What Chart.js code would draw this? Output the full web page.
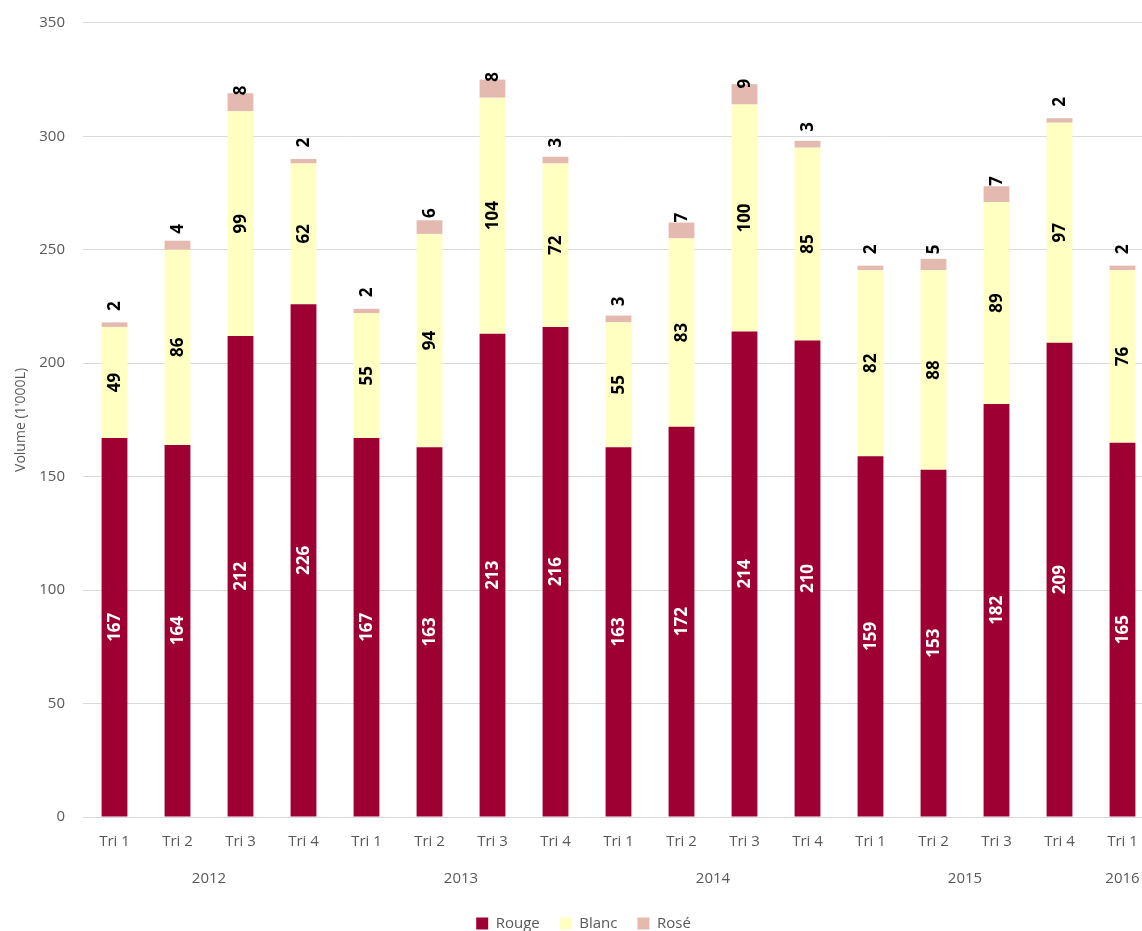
<!DOCTYPE html>
<html lang="fr">

<head>
    <meta charset="UTF-8">
    <title>Volume par trimestre</title>
    <style>
        html, body {
            margin: 0;
            padding: 0;
            background: #fff;
            overflow: hidden;
        }

        .wrap {
            width: 1154px;
            height: 931px;
        }
    </style>
</head>

<body>

    <div class="wrap">
        <canvas id="chart"></canvas>
    </div>

    <script src="https://cdn.jsdelivr.net/npm/chart.js@4.4.3/dist/chart.umd.min.js"></script>

    <script>
        const quarters = ['Tri 1', 'Tri 2', 'Tri 3', 'Tri 4', 'Tri 1', 'Tri 2', 'Tri 3', 'Tri 4', 'Tri 1', 'Tri 2', 'Tri 3', 'Tri 4', 'Tri 1', 'Tri 2', 'Tri 3', 'Tri 4', 'Tri 1']
        const years = ['2012', '2013', '2014', '2015', '2016']
        const quartersPerYear = [4, 4, 4, 4, 1]

        const rouge = [167, 164, 212, 226, 167, 163, 213, 216, 163, 172, 214, 210, 159, 153, 182, 209, 165]
        const blanc = [49, 86, 99, 62, 55, 94, 104, 72, 55, 83, 100, 85, 82, 88, 89, 97, 76]
        const rose = [2, 4, 8, 2, 2, 6, 8, 3, 3, 7, 9, 3, 2, 5, 7, 2, 2]

        const yTicks = [0, 50, 100, 150, 200, 250, 300, 350]

        const gray = '#595959'
        const font = '"Open Sans", sans-serif'

        // value labels written vertically on the bars
        const barLabels = {
            id: 'barLabels',
            afterDatasetsDraw(chart) {
                const ctx = chart.ctx
                chart.data.datasets.forEach((ds, i) => {
                    const meta = chart.getDatasetMeta(i)
                    meta.data.forEach((bar, j) => {
                        let y, align
                        if (i === 2) {
                            y = bar.base - 16
                            align = 'left'
                        } else {
                            y = (bar.y + bar.base) / 2
                            align = 'center'
                        }
                        ctx.save()
                        ctx.translate(bar.x, y)
                        ctx.rotate(-Math.PI / 2)
                        ctx.font = 'bold 17px ' + font
                        ctx.fillStyle = i === 0 ? '#ffffff' : '#000000'
                        ctx.textAlign = align
                        ctx.textBaseline = 'middle'
                        ctx.fillText(String(ds.data[j]), 0, 1)
                        ctx.restore()
                    })
                })
            }
        }

        // second row of the x axis: years centred under their quarters
        const yearRow = {
            id: 'yearRow',
            afterDraw(chart) {
                const ctx = chart.ctx
                const x = chart.scales.x
                let start = 0
                ctx.save()
                ctx.font = '15px ' + font
                ctx.fillStyle = gray
                ctx.textAlign = 'center'
                ctx.textBaseline = 'middle'
                years.forEach((yr, k) => {
                    const end = start + quartersPerYear[k] - 1
                    const cx = (x.getPixelForValue(start) + x.getPixelForValue(end)) / 2
                    ctx.fillText(yr, cx, chart.chartArea.bottom + 62)
                    start = end + 1
                })
                ctx.restore()
            }
        }

        const ctx = document.getElementById('chart').getContext('2d')

        new Chart(ctx, {
            type: 'bar',
            data: {
                labels: quarters,
                datasets: [{
                    label: 'Rouge',
                    data: rouge,
                    backgroundColor: '#9E0034',
                }, {
                    label: 'Blanc',
                    data: blanc,
                    backgroundColor: '#FFFFC2',
                }, {
                    label: 'Rosé',
                    data: rose,
                    backgroundColor: '#E4BAB0',
                }],
            },
            options: {
                responsive: true,
                maintainAspectRatio: false,
                animation: false,
                datasets: {
                    bar: {
                        barPercentage: 0.41,
                        categoryPercentage: 1,
                    }
                },
                layout: {
                    padding: { top: 0, left: 13, right: 0, bottom: -10 }
                },
                plugins: {
                    legend: {
                        position: 'bottom',
                        labels: {
                            boxWidth: 12,
                            boxHeight: 12,
                            padding: 20,
                            color: gray,
                            font: { family: font, size: 15 },
                        },
                    },
                    tooltip: { enabled: false },
                },
                scales: {
                    x: {
                        stacked: true,
                        grid: { display: false },
                        border: { display: false },
                        afterFit: scale => {
                            scale.height = 79
                        },
                        ticks: {
                            color: gray,
                            padding: 8,
                            maxRotation: 0,
                            autoSkip: false,
                            font: { family: font, size: 15 },
                        },
                    },
                    y: {
                        stacked: true,
                        min: yTicks[0],
                        max: yTicks[yTicks.length - 1],
                        afterBuildTicks: scale => {
                            scale.ticks = yTicks.map(v => ({ value: v }))
                        },
                        afterFit: scale => {
                            scale.width = 70
                        },
                        grid: { color: '#d9d9d9', drawTicks: false },
                        border: { display: false },
                        ticks: {
                            color: gray,
                            padding: 18,
                            font: { family: font, size: 15, lineHeight: 0.65 },
                        },
                        title: {
                            display: true,
                            text: "Volume (1'000L)",
                            color: gray,
                            font: { family: font, size: 14 },
                            padding: { top: 0, bottom: 6 },
                        },
                    },
                },
            },
            plugins: [barLabels, yearRow],
        });
    </script>

</body>

</html>
